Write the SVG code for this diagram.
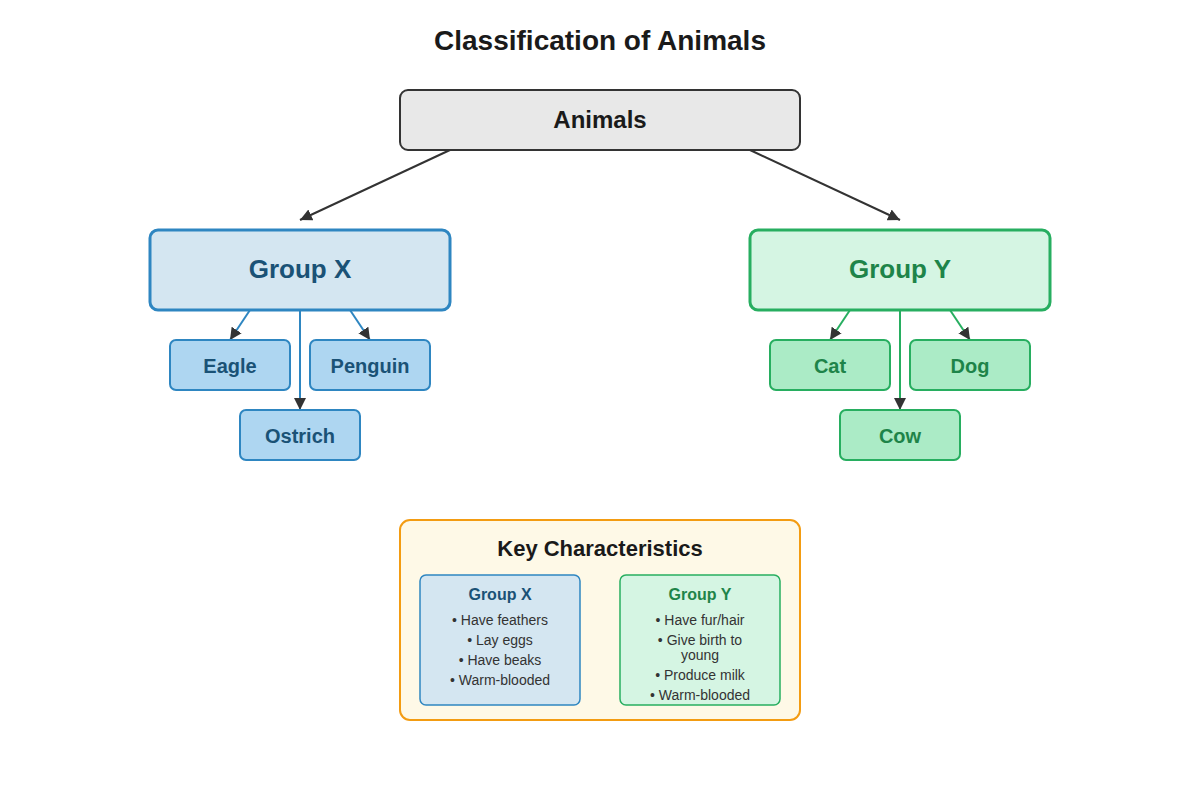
<svg xmlns="http://www.w3.org/2000/svg" width="1200" height="800" viewBox="0 0 1200 800">
<style>
text{font-family:"Liberation Sans",Arial,sans-serif;text-anchor:middle}
.b{font-weight:bold}
.xg{fill:#d4e6f1;stroke:#2e86c1;stroke-width:3}
.yg{fill:#d5f5e3;stroke:#27ae60;stroke-width:3}
.xl{fill:#aed6f1;stroke:#2e86c1;stroke-width:2}
.yl{fill:#abebc6;stroke:#27ae60;stroke-width:2}
.xt{fill:#1a5276}
.yt{fill:#1e8449}
.li{font-size:14px;fill:#333}
</style>
<defs>
<marker id="a" viewBox="0 0 10 10" refX="10" refY="5" markerWidth="6" markerHeight="6" orient="auto" markerUnits="strokeWidth"><path d="M0,0L10,5L0,10z" fill="#333"/></marker>
<marker id="s" viewBox="0 0 10 10" refX="10" refY="5" markerWidth="8" markerHeight="8" orient="auto" markerUnits="userSpaceOnUse"><path d="M0,0L10,5L0,10z" fill="#333"/></marker>
</defs>
<rect width="1200" height="800" fill="#fff"/>
<text x="600" y="50" class="b" font-size="28" fill="#1a1a1a">Classification of Animals</text>
<g id="connectors">
<line x1="450" y1="150" x2="300" y2="220" stroke="#333" stroke-width="2" marker-end="url(#a)"/>
<line x1="750" y1="150" x2="900" y2="220" stroke="#333" stroke-width="2" marker-end="url(#a)"/>
<g stroke="#2e86c1" stroke-width="2">
<line x1="250" y1="310" x2="230" y2="340" marker-end="url(#a)"/>
<line x1="350" y1="310" x2="370" y2="340" marker-end="url(#a)"/>
<line x1="300" y1="310" x2="300" y2="410" marker-end="url(#a)"/>
</g>
<g stroke="#27ae60" stroke-width="2">
<line x1="850" y1="310" x2="830" y2="340" marker-end="url(#a)"/>
<line x1="950" y1="310" x2="970" y2="340" marker-end="url(#a)"/>
<line x1="900" y1="310" x2="900" y2="410" marker-end="url(#a)"/>
</g>
</g>
<g id="animals"><rect x="400" y="90" width="400" height="60" rx="8" fill="#e8e8e8" stroke="#333" stroke-width="2"/><text x="600" y="128" class="b" font-size="24" fill="#1a1a1a">Animals</text></g>
<g id="groupX"><rect x="150" y="230" width="300" height="80" rx="8" class="xg"/><text x="300" y="278" class="b xt" font-size="26">Group X</text></g>
<g id="groupY"><rect x="750" y="230" width="300" height="80" rx="8" class="yg"/><text x="900" y="278" class="b yt" font-size="26">Group Y</text></g>
<g id="eagle"><rect x="170" y="340" width="120" height="50" rx="6" class="xl"/><text x="230" y="373" class="b xt" font-size="20">Eagle</text></g>
<g id="penguin"><rect x="310" y="340" width="120" height="50" rx="6" class="xl"/><text x="370" y="373" class="b xt" font-size="20">Penguin</text></g>
<g id="ostrich"><rect x="240" y="410" width="120" height="50" rx="6" class="xl"/><text x="300" y="443" class="b xt" font-size="20">Ostrich</text></g>
<g id="cat"><rect x="770" y="340" width="120" height="50" rx="6" class="yl"/><text x="830" y="373" class="b yt" font-size="20">Cat</text></g>
<g id="dog"><rect x="910" y="340" width="120" height="50" rx="6" class="yl"/><text x="970" y="373" class="b yt" font-size="20">Dog</text></g>
<g id="cow"><rect x="840" y="410" width="120" height="50" rx="6" class="yl"/><text x="900" y="443" class="b yt" font-size="20">Cow</text></g>
<g id="key">
<rect x="400" y="520" width="400" height="200" rx="10" fill="#fef9e7" stroke="#f39c12" stroke-width="2"/>
<text x="600" y="556" class="b" font-size="22" fill="#1a1a1a">Key Characteristics</text>
<rect x="420" y="575" width="160" height="130" rx="6" fill="#d4e6f1" stroke="#2e86c1" stroke-width="1.5"/>
<text x="500" y="600" class="b xt" font-size="16">Group X</text>
<text x="500" y="625" class="li">• Have feathers</text>
<text x="500" y="645" class="li">• Lay eggs</text>
<text x="500" y="665" class="li">• Have beaks</text>
<text x="500" y="685" class="li">• Warm-blooded</text>
<rect x="620" y="575" width="160" height="130" rx="6" fill="#d5f5e3" stroke="#27ae60" stroke-width="1.5"/>
<text x="700" y="600" class="b yt" font-size="16">Group Y</text>
<text x="700" y="625" class="li">• Have fur/hair</text>
<text x="700" y="645" class="li">• Give birth to</text>
<text x="700" y="660" class="li">young</text>
<text x="700" y="680" class="li">• Produce milk</text>
<text x="700" y="700" class="li">• Warm-blooded</text>
</g>
</svg>
